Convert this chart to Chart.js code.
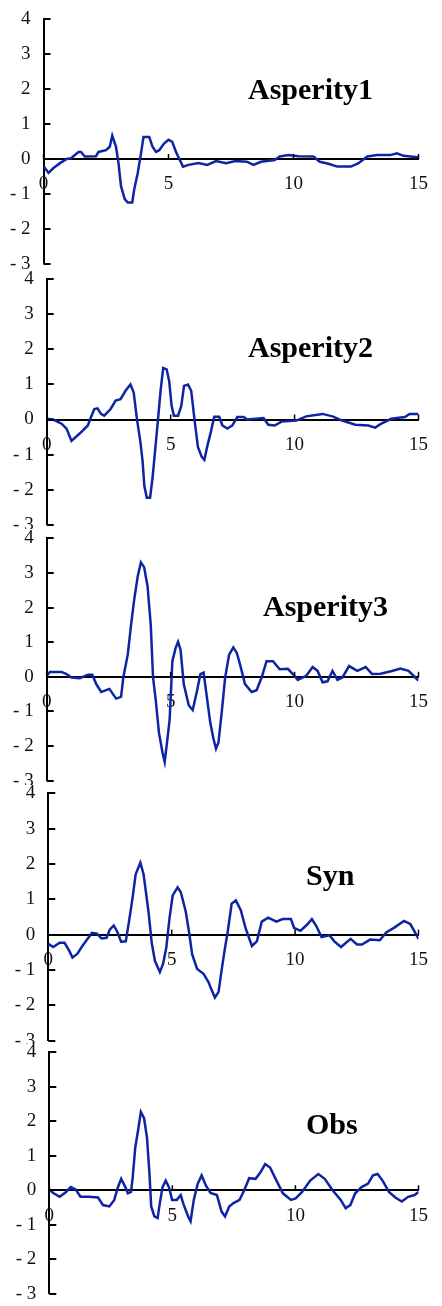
<!DOCTYPE html>
<html><head><meta charset="utf-8">
<script src="https://cdn.jsdelivr.net/npm/chart.js@4.4.1/dist/chart.umd.min.js"></script>
<style>
html,body{margin:0;padding:0;background:#fff;}
body{width:442px;height:1306px;overflow:hidden;position:relative;}
canvas{position:absolute;left:0;background:#fff;}
</style></head><body>
<canvas id="c1"></canvas><canvas id="c2"></canvas><canvas id="c3"></canvas><canvas id="c4"></canvas><canvas id="c5"></canvas>
<script>
// ---- data (time in s, amplitude) ----
const time1 = [0,0.2,0.4,0.66,0.93,1.1,1.4,1.5,1.65,2.1,2.2,2.5,2.65,2.75,2.9,3.0,3.1,3.25,3.37,3.55,3.63,3.77,3.9,4.0,4.23,4.36,4.5,4.63,4.82,5.0,5.15,5.3,5.42,5.58,5.8,6.2,6.55,6.9,7.3,7.67,8.13,8.4,8.7,9.25,9.45,9.8,10.2,10.8,11.05,11.4,11.75,12.3,12.6,12.95,13.35,13.87,14.14,14.4,14.67,15];
const asperity1 = [-0.2,-0.4,-0.26,-0.12,0,0.02,0.2,0.2,0.07,0.08,0.2,0.25,0.35,0.67,0.35,-0.12,-0.78,-1.15,-1.25,-1.25,-0.87,-0.4,0.16,0.63,0.63,0.35,0.2,0.25,0.44,0.55,0.49,0.2,0.02,-0.22,-0.17,-0.12,-0.17,-0.06,-0.12,-0.06,-0.08,-0.17,-0.08,-0.03,0.07,0.11,0.08,0.07,-0.08,-0.14,-0.22,-0.22,-0.12,0.07,0.11,0.11,0.16,0.09,0.07,0.05];

const time2 = [0,0.26,0.6,0.8,1.0,1.33,1.66,1.79,1.92,2.05,2.19,2.32,2.58,2.78,2.98,3.18,3.38,3.51,3.64,3.78,3.87,3.94,4.04,4.17,4.27,4.37,4.48,4.6,4.7,4.84,4.94,5.04,5.13,5.3,5.43,5.54,5.7,5.83,5.96,6.1,6.25,6.36,6.49,6.62,6.76,6.96,7.09,7.29,7.49,7.69,7.95,8.08,8.75,8.94,9.2,9.47,10.07,10.47,11.13,11.53,11.92,12.45,12.98,13.25,13.5,13.9,14.45,14.64,15];
const asperity2 = [0.02,0,-0.12,-0.26,-0.61,-0.4,-0.17,0.07,0.3,0.32,0.16,0.11,0.3,0.54,0.58,0.82,1.0,0.77,0.02,-0.64,-1.2,-1.9,-2.23,-2.23,-1.67,-0.92,-0.08,0.86,1.47,1.43,1.1,0.39,0.11,0.11,0.39,0.96,1.0,0.82,0.02,-0.78,-1.06,-1.15,-0.73,-0.36,0.08,0.08,-0.17,-0.26,-0.17,0.07,0.07,0,0.04,-0.15,-0.17,-0.06,-0.03,0.09,0.16,0.09,-0.03,-0.15,-0.17,-0.23,-0.12,0.02,0.07,0.16,0.16];

const time3 = [0,0.13,0.6,0.8,1.0,1.33,1.67,1.84,2.0,2.2,2.53,2.8,3.0,3.09,3.27,3.4,3.53,3.67,3.8,3.93,4.07,4.2,4.29,4.4,4.53,4.67,4.76,4.87,4.96,5.07,5.2,5.3,5.4,5.53,5.73,5.89,6.07,6.2,6.33,6.47,6.6,6.73,6.83,6.93,7.07,7.2,7.36,7.53,7.67,7.8,8.0,8.27,8.47,8.67,8.87,9.13,9.4,9.73,9.93,10.13,10.47,10.73,10.93,11.13,11.33,11.53,11.73,11.93,12.2,12.53,12.87,13.13,13.47,13.93,14.27,14.6,14.87,15];
const asperity3 = [0.03,0.14,0.14,0.08,-0.02,-0.04,0.06,0.06,-0.21,-0.44,-0.35,-0.63,-0.58,-0.02,0.64,1.48,2.23,2.89,3.31,3.17,2.61,1.48,-0.02,-0.68,-1.62,-2.18,-2.46,-1.8,-1.24,0.45,0.83,1.01,0.78,-0.21,-0.82,-0.96,-0.39,0.08,0.12,-0.63,-1.33,-1.8,-2.08,-1.9,-0.96,-0.02,0.64,0.85,0.69,0.36,-0.21,-0.44,-0.39,-0.02,0.45,0.45,0.22,0.23,0.08,-0.09,0.03,0.28,0.17,-0.16,-0.13,0.17,-0.09,-0.02,0.31,0.17,0.28,0.08,0.09,0.17,0.24,0.17,-0.02,-0.11];

const timeSyn = [0,0.2,0.46,0.66,0.85,0.98,1.18,1.38,1.57,1.77,1.97,2.16,2.36,2.49,2.65,2.79,2.95,3.14,3.28,3.41,3.54,3.73,3.86,4.06,4.19,4.32,4.52,4.65,4.78,4.91,5.04,5.24,5.37,5.57,5.7,5.83,6.03,6.29,6.49,6.62,6.75,6.9,7.0,7.14,7.27,7.43,7.6,7.8,7.99,8.25,8.45,8.65,8.91,9.24,9.5,9.83,9.96,10.22,10.48,10.68,10.87,11.07,11.4,11.59,11.86,12.25,12.51,12.71,13.04,13.43,13.69,14.02,14.41,14.67,14.87,15];
const syn = [-0.26,-0.35,-0.23,-0.23,-0.46,-0.65,-0.54,-0.32,-0.14,0.05,0.03,-0.11,-0.09,0.14,0.26,0.09,-0.2,-0.19,0.42,1.02,1.71,2.04,1.71,0.65,-0.23,-0.74,-1.06,-0.83,-0.37,0.46,1.11,1.34,1.2,0.65,0.09,-0.56,-0.97,-1.11,-1.34,-1.57,-1.78,-1.62,-1.11,-0.46,0.09,0.88,0.97,0.69,0.19,-0.32,-0.19,0.37,0.48,0.37,0.44,0.44,0.19,0.11,0.28,0.44,0.23,-0.07,-0.02,-0.19,-0.35,-0.12,-0.28,-0.28,-0.14,-0.16,0.06,0.2,0.39,0.3,0.05,-0.12];

const timeObs = [0,0.16,0.42,0.68,0.87,1.07,1.27,1.59,1.98,2.18,2.44,2.64,2.77,2.92,3.09,3.19,3.32,3.39,3.49,3.62,3.72,3.85,3.97,4.07,4.14,4.27,4.4,4.49,4.6,4.73,4.86,4.99,5.18,5.34,5.44,5.64,5.74,5.87,6.03,6.19,6.36,6.55,6.81,7.0,7.14,7.31,7.47,7.73,7.92,8.12,8.38,8.58,8.77,8.97,9.23,9.49,9.82,10.01,10.27,10.6,10.93,11.19,11.51,11.84,12.04,12.23,12.43,12.69,12.95,13.15,13.34,13.54,13.8,14.06,14.32,14.58,14.84,15];
const obs = [0.02,-0.08,-0.19,-0.05,0.09,0.02,-0.19,-0.19,-0.21,-0.43,-0.47,-0.28,0.05,0.33,0.09,-0.09,-0.05,0.38,1.23,1.8,2.27,2.09,1.52,0.47,-0.47,-0.76,-0.81,-0.38,0.09,0.28,0.09,-0.28,-0.28,-0.14,-0.38,-0.76,-0.9,-0.28,0.19,0.43,0.14,-0.08,-0.14,-0.62,-0.76,-0.47,-0.38,-0.28,0,0.35,0.33,0.52,0.76,0.66,0.28,-0.09,-0.28,-0.24,-0.05,0.28,0.47,0.33,0,-0.28,-0.52,-0.43,-0.09,0.09,0.19,0.43,0.47,0.28,-0.05,-0.21,-0.33,-0.19,-0.14,-0.05];

const panelNames = ['Asperity1','Asperity2','Asperity3','Syn','Obs'];
const xMin = 0, xMax = 15, xStep = 5;
const yMin = -3, yMax = 4, yStep = 1;

// ---- layout (page pixels) ----
const layoutCfg = [
  {id:'c1', t:time1,   v:asperity1, axisX:43.5, right:421.5, top:17,    bottom:265.5, lx:248, ly:99},
  {id:'c2', t:time2,   v:asperity2, axisX:46.7, right:424,   top:277,   bottom:526.7, lx:248, ly:357},
  {id:'c3', t:time3,   v:asperity3, axisX:46.7, right:421.7, top:535.7, bottom:783,   lx:263, ly:616},
  {id:'c4', t:timeSyn, v:syn,       axisX:48.3, right:430,   top:791,   bottom:1043,  lx:306, ly:885},
  {id:'c5', t:timeObs, v:obs,       axisX:49.3, right:432.3, top:1050,  bottom:1296,  lx:306, ly:1134}
];
const PAD = 22;
const W = 442;
const FONT = '"Liberation Serif", "Times New Roman", serif';
const LINE_COLOR = '#0f24a3';

layoutCfg.forEach((p, i) => {
  const cv = document.getElementById(p.id);
  const cTop = p.top - PAD;
  const cH = Math.round(p.bottom - p.top + 2 * PAD);
  cv.width = W; cv.height = cH;
  cv.style.width = W + 'px'; cv.style.height = cH + 'px';
  cv.style.top = cTop + 'px';
  cv.style.zIndex = i + 1;
  if (i > 0) cv.style.clipPath = 'inset(' + (PAD - 6) + 'px 0 0 0)';

  const name = panelNames[i];
  const decor = {
    id: 'decor' + i,
    afterDraw(chart) {
      const ctx = chart.ctx;
      const xs = chart.scales.x, ys = chart.scales.y;
      const left = chart.chartArea.left;
      const zero = ys.getPixelForValue(0);
      ctx.save();
      ctx.strokeStyle = '#000';
      ctx.lineWidth = 2;
      ys.ticks.forEach(tk => {
        const y = Math.round(ys.getPixelForValue(tk.value));
        ctx.beginPath(); ctx.moveTo(left, y); ctx.lineTo(left + 7, y); ctx.stroke();
      });
      ctx.lineWidth = 1.5;
      xs.ticks.forEach(tk => {
        const x = xs.getPixelForValue(tk.value);
        ctx.beginPath(); ctx.moveTo(x, zero); ctx.lineTo(x, zero - 5); ctx.stroke();
      });
      ctx.fillStyle = '#000';
      ctx.font = 'bold 30px ' + FONT;
      ctx.textBaseline = 'alphabetic';
      ctx.textAlign = 'left';
      ctx.fillText(name, p.lx, p.ly - cTop);
      ctx.restore();
    }
  };

  new Chart(cv, {
    type: 'line',
    data: {
      datasets: [{
        label: name,
        data: p.t.map((x, k) => ({x: x, y: p.v[k]})),
        borderColor: LINE_COLOR,
        borderWidth: 2.5,
        pointRadius: 0,
        tension: 0,
        fill: false
      }]
    },
    options: {
      responsive: false,
      animation: false,
      devicePixelRatio: 1,
      layout: {padding: {top: PAD, bottom: PAD, left: 0, right: W - p.right}},
      plugins: {legend: {display: false}, tooltip: {enabled: false}, title: {display: false}},
      scales: {
        x: {
          type: 'linear', min: xMin, max: xMax,
          position: {y: 0},
          ticks: {stepSize: xStep, color: '#111', padding: 14, font: {family: FONT, size: 19}, maxRotation: 0},
          grid: {drawOnChartArea: false, drawTicks: false},
          border: {display: true, color: '#000', width: 2}
        },
        y: {
          type: 'linear', min: yMin, max: yMax,
          position: 'left',
          afterFit: (scale) => { scale.width = p.axisX; },
          ticks: {stepSize: yStep, color: '#111', padding: 13, font: {family: FONT, size: 19},
                  callback: (v) => v < 0 ? '- ' + Math.abs(v) : String(v)},
          grid: {drawOnChartArea: false, drawTicks: false},
          border: {display: true, color: '#000', width: 2}
        }
      }
    },
    plugins: [decor]
  });
});
</script>
</body></html>
